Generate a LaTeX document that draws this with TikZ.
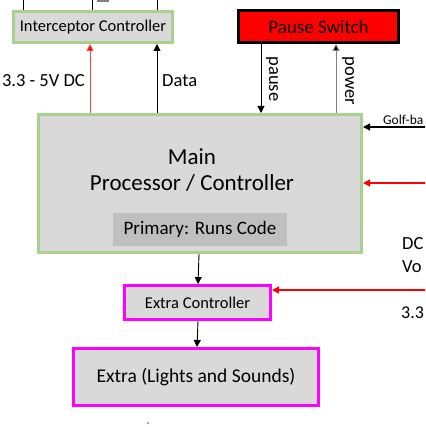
\documentclass[tikz,border=0pt]{standalone}
\usepackage{fontspec}
\setmainfont{Carlito}
\usetikzlibrary{arrows.meta}
\definecolor{boxgray}{HTML}{D9D9D9}
\definecolor{primgray}{HTML}{BFBFBF}
\definecolor{gborder}{HTML}{A9D18E}
\definecolor{mag}{HTML}{FF00FF}
\definecolor{linegray}{HTML}{7F7F7F}
\begin{document}
\begin{tikzpicture}[x=1pt,y=-1pt,
  box/.style={draw, line width=3pt, fill=boxgray, inner sep=0pt, align=center},
  greenbox/.style={box, draw=gborder},
  magbox/.style={box, draw=mag},
  fs/.style={font=\fontsize{#1}{#1}\selectfont},
  arr/.style={line width=0.9pt, -{Triangle[length=7pt,width=7pt]}},
  lbl/.style={inner sep=0pt, text=black}
]
\useasboundingbox (0,0) rectangle (425,427);
\begin{scope}
\clip (0,0) rectangle (425,427);
% top stubs
\coordinate (s1) at (23,0); \coordinate (s2) at (92,0); \coordinate (s3) at (157,0);
\fill[linegray] (97,0) rectangle (109,2);

% nodes
\node[greenbox, minimum width=159pt, minimum height=31pt, fs=16.5] (ic) at (93,27) {Interceptor Controller};
\node[box, draw=black, fill=red, minimum width=160pt, minimum height=32pt, fs=19] (ps) at (318.5,26.5) {Pause Switch};
\node[greenbox, minimum width=323pt, minimum height=138pt] (main) at (200,183.5) {};
\node[lbl, font=\fontsize{23}{26}\selectfont, align=center] (mainlbl) at (192,170) {Main\\Processor / Controller};
\node[fill=primgray, inner sep=0pt, minimum width=174pt, minimum height=33pt, fs=19] (prim) at (200,229.5) {Primary: Runs Code};
\node[magbox, minimum width=146pt, minimum height=34pt, fs=16.5] (ec) at (197.5,302.5) {Extra Controller};
\node[magbox, minimum width=245pt, minimum height=57pt, fs=19.5] (ex) at (196,377) {Extra (Lights and Sounds)};

\draw[line width=0.9pt] (s1) -- (s1 |- ic.north);
\draw[line width=0.9pt] (s2) -- (s2 |- ic.north);
\draw[line width=0.9pt] (s3) -- (s3 |- ic.north);

% connectors
\coordinate (xa) at (90,0);
\coordinate (xd) at (157,0);
\coordinate (xp) at (261,0);
\coordinate (xw) at (336,0);
\draw[arr, red!75, -{Triangle[length=7pt,width=7pt,fill=red]}] (main.north -| xa) -- (ic.south -| xa);
\draw[arr] (main.north -| xd) -- (ic.south -| xd);
\draw[arr] (ps.south -| xp) -- (main.north -| xp);
\draw[arr, draw=linegray, -{Triangle[length=7pt,width=7pt,fill=black]}] (main.north -| xw) -- (ps.south -| xw);

\coordinate (rg) at (430,127);
\coordinate (rr) at (430,183);
\coordinate (re) at (430,290);
\draw[arr, line width=1.3pt] (rg) -- (rg -| main.east);
\draw[arr, red, line width=1.3pt] (rr) -- (rr -| main.east);
\draw[arr, red, line width=1.3pt] (re) -- (re -| ec.east);

\draw[arr] (main.south -| 199,0) -- (ec.north -| 198,0);
\draw[arr] (ec.south -| 198,0) -- (ex.north -| 197,0);

% labels
\node[lbl, fs=18.5, anchor=east] (l33) at (85,81) {3.3 - 5V DC};
\node[lbl, fs=18.5, anchor=west] (ldata) at (162,81) {Data};
\node[lbl, fs=18.5, rotate=-90] (lpause) at (272,79) {pause};
\node[lbl, fs=18.5, rotate=-90] (lpower) at (348,81) {power};
\node[lbl, fs=13.5, anchor=south west] (lgolf) at (383,125) {Golf-ba};
\node[lbl, fs=18.5, anchor=west] (ldc) at (402,244) {DC};
\node[lbl, fs=18.5, anchor=west] (lvo) at (402,267) {Vo};
\node[lbl, fs=18, anchor=west] (l3) at (401,313) {3.3};
\fill[red] (148,423) circle (0.8pt);
\end{scope}
\end{tikzpicture}
\end{document}
